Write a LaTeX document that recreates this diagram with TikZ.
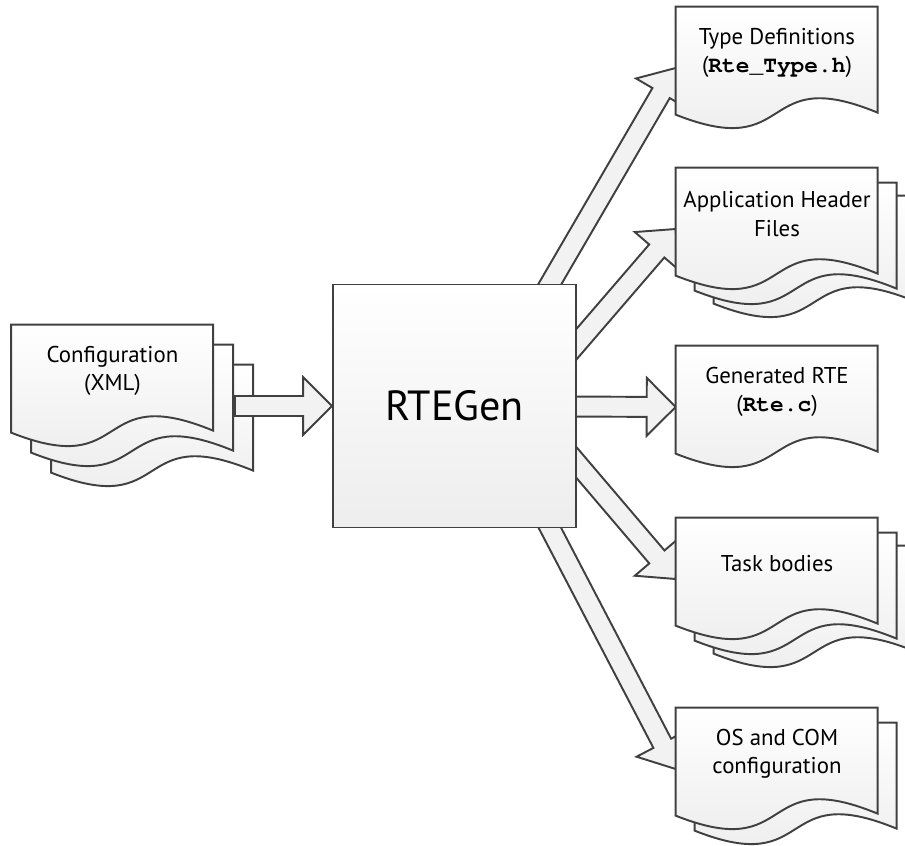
\documentclass[tikz,border=0pt]{standalone}
\usepackage{fontspec}
\setmainfont{PT Sans}
\setmonofont{TeX Gyre Cursor}
\usetikzlibrary{calc}
\definecolor{docline}{HTML}{404040}
\definecolor{arrowgray}{HTML}{F2F2F2}
\pgfdeclarelayer{background}
\pgfsetlayers{background,main}
\newcommand{\shafthalf}{0.2cm}
\newcommand{\headhalf}{0.58cm}
\newcommand{\headlen}{0.58cm}
\newcommand{\fatarrow}[2]{%
	\coordinate (hb) at ($(#2)!\headlen!(#1)$);
	\filldraw[fatarrow] ($(#1)!\shafthalf!90:(#2)$) -- ($(hb)!\shafthalf!90:(#2)$) -- ($(hb)!\headhalf!90:(#2)$) -- (#2) -- ($(hb)!\headhalf!-90:(#2)$) -- ($(hb)!\shafthalf!-90:(#2)$) -- ($(#1)!\shafthalf!-90:(#2)$) -- cycle;}
\newcommand{\docpage}[3]{%
	\coordinate (pg) at ($(#1.north west)+(#2,#3)$);
	\filldraw[page] (pg) -- ++(202,0) -- ++(0,106) .. controls ($(pg)+(81,56)$) and ($(pg)+(121,156)$) .. ($(pg)+(0,108)$) -- cycle;}

\begin{document}
\begin{tikzpicture}[x=0.02cm, y=-0.02cm,
		doc/.style={minimum width=4.04cm, minimum height=1.84cm, inner sep=0pt, align=center, font=\fontsize{13}{16}\selectfont},
		page/.style={draw=docline, line width=1.1pt, top color=white, bottom color=black!8},
		fatarrow/.style={draw=docline, line width=1.1pt, fill=arrowgray},
		genbox/.style={draw=docline, line width=1.1pt, top color=white, bottom color=black!7, minimum size=4.86cm, inner sep=0pt, font=\fontsize{24}{28}\selectfont}]
	\useasboundingbox (0,0) rectangle (905,845);
	\node[genbox] (gen) at (454.5, 406) {RTEGen};
	\node[doc] (conf) at (112.5, 371) {Configuration\\(XML)};
	\node[doc] (typedef) at (777, 53) {Type Definitions\\(\texttt{\bfseries Rte\_Type.h})};
	\node[doc] (apph) at (777, 214) {Application Header\\Files};
	\node[doc] (genrte) at (777, 392) {Generated RTE\\(\texttt{\bfseries Rte.c})};
	\node[doc] (task) at (777, 564) {Task bodies};
	\node[doc] (oscom) at (777, 754) {OS and COM\\configuration};
	\coordinate (td tip) at ($(typedef.west)+(0,15)$);
	\coordinate (td tail) at ($(td tip)!1.3!(gen.52.5)$);
	\coordinate (ah tip) at ($(apph.west)+(0,15)$);
	\coordinate (ah tail) at ($(ah tip)!1.3!(gen.27.8)$);
	\coordinate (gr tip) at ($(genrte.west)+(0,15)$);
	\coordinate (tb tip) at ($(task.west)+(0,15)$);
	\coordinate (tb tail) at ($(tb tip)!1.3!(gen.-25.9)$);
	\coordinate (os tip) at ($(oscom.west)+(0,15)$);
	\coordinate (os tail) at ($(os tip)!1.3!(gen.-52.9)$);
	\coordinate (cf tail) at ($(conf.east |- gen.west)+(21,0)$);
	\begin{pgfonlayer}{background}
		\fatarrow{td tail}{td tip}
		\fatarrow{ah tail}{ah tip}
		\fatarrow{gen.center}{gr tip}
		\fatarrow{tb tail}{tb tip}
		\fatarrow{os tail}{os tip}
		\docpage{conf}{40}{40}
		\docpage{conf}{20}{20}
		\docpage{conf}{0}{0}
		\docpage{typedef}{0}{0}
		\docpage{apph}{38}{28}
		\docpage{apph}{19}{15}
		\docpage{apph}{0}{0}
		\docpage{genrte}{0}{0}
		\docpage{task}{38}{28}
		\docpage{task}{19}{15}
		\docpage{task}{0}{0}
		\docpage{oscom}{19}{15}
		\docpage{oscom}{0}{0}
		\fatarrow{cf tail}{gen.west}
	\end{pgfonlayer}
\end{tikzpicture}
\end{document}
